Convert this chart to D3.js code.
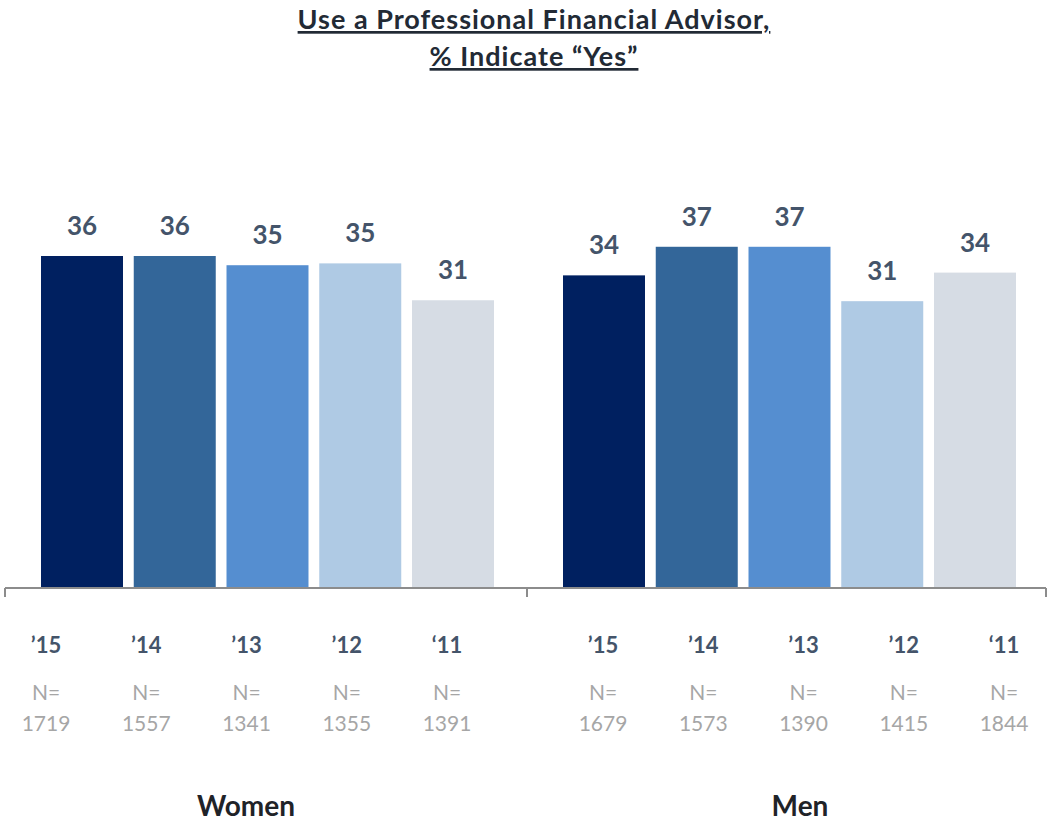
<!DOCTYPE html>
<html>
<head>
<meta charset="utf-8">
<script src="https://cdn.jsdelivr.net/npm/d3@7"></script>
<style>
  html, body { margin: 0; padding: 0; background: #fff; }
  svg { display: block; }
</style>
</head>
<body>
<svg id="chart" width="1049" height="822"></svg>
<script>
// ---- data ----
const groups = ["Women", "Men"];
const years = ["’15", "’14", "’13", "’12", "‘11"];
const yearKeys = ["2015", "2014", "2013", "2012", "2011"];
const womenValues = [36.0, 36.0, 35.0, 35.2, 31.2];
const menValues = [33.9, 37.0, 37.0, 31.1, 34.2];
const womenN = ["1719", "1557", "1341", "1355", "1391"];
const menN = ["1679", "1573", "1390", "1415", "1844"];
const titleLines = ["Use a Professional Financial Advisor,", "% Indicate “Yes”"];
const yearColors = ["#002060", "#336699", "#558ED0", "#AFCAE4", "#D6DCE4"];

const seriesValues = { Women: womenValues, Men: menValues };
const seriesN = { Women: womenN, Men: menN };

// ---- layout ----
const svg = d3.select("#chart");
const font = "Lato, 'Open Sans', sans-serif";
const baseline = 588;
const axisEnd = 1046;

const x0 = d3.scaleBand().domain(groups).range([5, 1049]);
const x1 = d3.scaleBand().domain(yearKeys).range([36, 489])
  .paddingInner(0.116).paddingOuter(0);
// category labels table sits on its own grid
const xl = d3.scalePoint().domain(yearKeys).range([0, 401]);
const labelOffsets = { Women: 41, Men: 76 };
const y = d3.scaleLinear().domain([0, 36]).range([baseline, 256]);
const color = d3.scaleOrdinal().domain(yearKeys).range(yearColors);
const fmt = d3.format(".0f");

// title
titleLines.forEach((t, i) => {
  svg.append("text")
    .attr("x", 534).attr("y", 29 + i * 37)
    .attr("text-anchor", "middle")
    .attr("font-family", font).attr("font-weight", 700)
    .attr("font-size", 27).attr("letter-spacing", 1)
    .attr("fill", "#222a35")
    .attr("text-decoration", "underline")
    .text(t);
});

// bars
groups.forEach(g => {
  const gx = x0(g);
  const vals = seriesValues[g];
  const gg = svg.append("g").attr("transform", `translate(${gx},0)`);
  gg.selectAll("rect").data(yearKeys).join("rect")
    .attr("x", d => x1(d))
    .attr("y", (d, i) => y(vals[i]))
    .attr("width", x1.bandwidth())
    .attr("height", (d, i) => baseline - y(vals[i]))
    .attr("fill", d => color(d));
  gg.selectAll("text.val").data(yearKeys).join("text")
    .attr("class", "val")
    .attr("x", d => x1(d) + x1.bandwidth() / 2)
    .attr("y", (d, i) => y(vals[i]) - 21)
    .attr("text-anchor", "middle")
    .attr("font-family", font).attr("font-weight", 700)
    .attr("font-size", 26).attr("fill", "#44546A")
    .text((d, i) => fmt(vals[i]));

  const lg = svg.append("g").attr("transform", `translate(${gx + labelOffsets[g]},0)`);
  lg.selectAll("text.yr").data(yearKeys).join("text")
    .attr("class", "yr")
    .attr("x", d => xl(d))
    .attr("y", 653)
    .attr("text-anchor", "middle")
    .attr("font-family", font).attr("font-weight", 700)
    .attr("font-size", 22).attr("fill", "#44546A")
    .text((d, i) => years[i]);
  lg.selectAll("text.n1").data(yearKeys).join("text")
    .attr("class", "n1")
    .attr("x", d => xl(d))
    .attr("y", 700)
    .attr("text-anchor", "middle")
    .attr("font-family", font)
    .attr("font-size", 21).attr("fill", "#A6A6A6")
    .text("N=");
  lg.selectAll("text.n2").data(yearKeys).join("text")
    .attr("class", "n2")
    .attr("x", d => xl(d))
    .attr("y", 731)
    .attr("text-anchor", "middle")
    .attr("font-family", font)
    .attr("font-size", 21).attr("fill", "#A6A6A6")
    .text((d, i) => seriesN[g][i]);
});

// axis line with group ticks
const axisG = svg.append("g");
axisG.append("line")
  .attr("x1", x0.range()[0]).attr("x2", axisEnd)
  .attr("y1", baseline).attr("y2", baseline)
  .attr("stroke", "#8c8c8c").attr("stroke-width", 2);
const tickXs = [x0("Women"), x0("Men"), axisEnd];
axisG.selectAll("line.tick").data(tickXs).join("line")
  .attr("class", "tick")
  .attr("x1", d => d).attr("x2", d => d)
  .attr("y1", baseline).attr("y2", baseline + 9)
  .attr("stroke", "#8c8c8c").attr("stroke-width", 2);

// group labels
const groupOffsets = { Women: -20, Men: 12 };
svg.selectAll("text.grp").data(groups).join("text")
  .attr("class", "grp")
  .attr("x", d => x0(d) + x0.bandwidth() / 2 + groupOffsets[d])
  .attr("y", 816)
  .attr("text-anchor", "middle")
  .attr("font-family", font).attr("font-weight", 700)
  .attr("font-size", 28).attr("fill", "#1f2328")
  .text(d => d);
</script>
</body>
</html>
